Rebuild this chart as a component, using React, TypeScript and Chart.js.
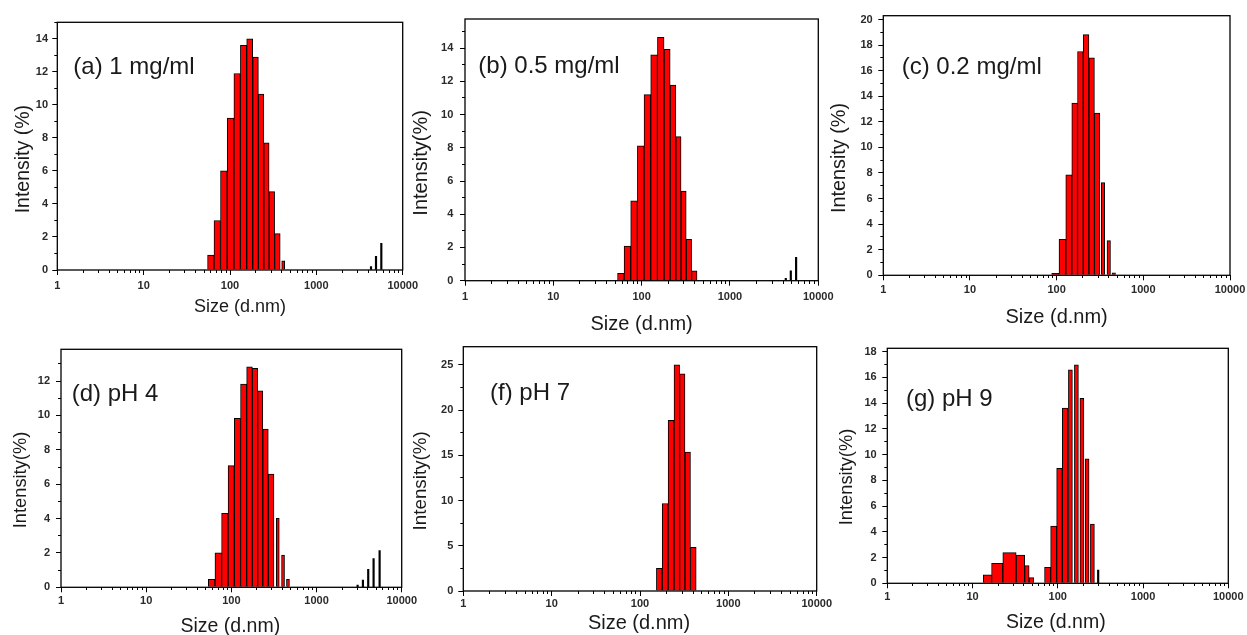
import React, { useEffect, useRef } from "react";
import { Chart, registerables } from "chart.js";

Chart.register(...registerables);

const FONT = "'Liberation Sans', Arial, Helvetica, sans-serif";

// ---- axis ticks ----
const xMajorTicks = [1, 10, 100, 1000, 10000];
const xMinorMultipliers = [2, 3, 4, 5, 6, 7, 8, 9];

// ---- (a) 1 mg/ml ----
const sizesA = [59.9, 71.1, 84.8, 101.5, 121.3, 143.6, 169.5, 198, 229.5, 264, 305, 354];
const intensityA = [0.9, 3.0, 6.0, 9.2, 11.9, 13.6, 14.0, 12.9, 10.65, 7.7, 4.75, 2.2];
const tailSizesA = [413];
const tailIntensityA = [0.56];
const spikeSizesA = [4295, 4908, 5654];
const spikeIntensityA = [0.2, 0.83, 1.62];

// ---- (b) 0.5 mg/ml ----
const sizesB = [58.1, 68.9, 82.0, 97.7, 116.0, 138.2, 164.9, 195, 226.8, 261.8, 298, 342.5, 394.5];
const intensityB = [0.44, 2.09, 4.8, 8.12, 11.2, 13.6, 14.64, 13.92, 11.77, 8.67, 5.4, 2.49, 0.6];
const spikeSizesB = [4285, 4883, 5607];
const spikeIntensityB = [0.14, 0.6, 1.41];

// ---- (c) 0.2 mg/ml ----
const sizesC = [96.6, 117.3, 138.4, 161.5, 187.8, 218.6, 253.9, 293.1];
const intensityC = [0.15, 2.82, 7.85, 13.47, 17.5, 18.82, 17.0, 12.69];
const tailSizesC = [342, 399, 456];
const tailIntensityC = [7.25, 2.71, 0.2];

// ---- (d) pH 4 ----
const sizesD = [58.7, 70.2, 84.1, 99.7, 118, 139.4, 164, 190.2, 217.8, 251.3, 293];
const intensityD = [0.47, 2.01, 4.3, 7.08, 9.83, 11.83, 12.83, 12.74, 11.44, 9.21, 6.59];
const tailSizesD = [350.8, 404.4, 462];
const tailIntensityD = [4.01, 1.88, 0.47];
const spikeSizesD = [3036, 3506, 4045, 4677, 5504];
const spikeIntensityD = [0.13, 0.42, 1.05, 1.67, 2.13];

// ---- (f) pH 7 ----
const sizesF = [165.4, 192.4, 225, 261.7, 301, 346, 401.5];
const intensityF = [2.51, 9.67, 18.86, 25.0, 24.0, 15.36, 4.84];

// ---- (g) pH 9 ----
const smallSizesG = [14.95, 18.7, 27.4, 38.5, 43.4, 49.0];
const smallIntensityG = [0.65, 1.55, 2.38, 2.2, 1.37, 0.44];
const sizesG = [75.9, 89.5, 105, 121.8];
const intensityG = [1.24, 4.45, 8.93, 13.6];
const tailSizesG = [140.6, 165.3, 191.7, 220.5, 254.6];
const tailIntensityG = [16.57, 16.96, 14.37, 9.66, 4.6];
const spikeSizesG = [297.6];
const spikeIntensityG = [1.03];

type Series = { sizes: number[]; values: number[]; kind: "flex" | "narrow" | "line"; thickness?: number };
type Panel = {
  key: string;
  label: string;
  yTitle: string;
  xTitle: string;
  l: number; t: number; r: number; b: number;
  yMax: number; yStep: number; yLabelEvery: number;
  series: Series[];
  labelDx: number; labelDy: number;
  yTitleDx: number; yTitleDy: number; yTitleSize: number;
  xTitleDx: number; xTitleDy: number; xTitleSize: number;
  yPad: number; xPad: number;
};

const panels: Panel[] = [
  {
    key: "a", label: "(a) 1 mg/ml", yTitle: "Intensity (%)", xTitle: "Size (d.nm)",
    l: 57.3, t: 22.3, r: 402.7, b: 270, yMax: 15, yStep: 1, yLabelEvery: 2,
    series: [
      { sizes: sizesA, values: intensityA, kind: "flex" },
      { sizes: tailSizesA, values: tailIntensityA, kind: "narrow", thickness: 3 },
      { sizes: spikeSizesA, values: spikeIntensityA, kind: "line" },
    ],
    labelDx: 16, labelDy: 44.7, yTitleDx: -34, yTitleDy: 13, yTitleSize: 19.5,
    xTitleDx: 10, xTitleDy: 36.7, xTitleSize: 18, yPad: 4.3, xPad: 4.4,
  },
  {
    key: "b", label: "(b) 0.5 mg/ml", yTitle: "Intensity(%)", xTitle: "Size (d.nm)",
    l: 465, t: 19, r: 818.3, b: 280.7, yMax: 15.75, yStep: 1, yLabelEvery: 2,
    series: [
      { sizes: sizesB, values: intensityB, kind: "flex" },
      { sizes: spikeSizesB, values: spikeIntensityB, kind: "line" },
    ],
    labelDx: 13.3, labelDy: 47.7, yTitleDx: -43.3, yTitleDy: 13, yTitleSize: 20,
    xTitleDx: 0, xTitleDy: 43.3, xTitleSize: 20, yPad: 6.7, xPad: 4.4,
  },
  {
    key: "c", label: "(c) 0.2 mg/ml", yTitle: "Intensity (%)", xTitle: "Size (d.nm)",
    l: 883.3, t: 15.7, r: 1230, b: 275.3, yMax: 20.3, yStep: 1, yLabelEvery: 2,
    series: [
      { sizes: sizesC, values: intensityC, kind: "flex" },
      { sizes: tailSizesC, values: tailIntensityC, kind: "narrow", thickness: 3.5 },
    ],
    labelDx: 18.4, labelDy: 51.3, yTitleDx: -43.3, yTitleDy: 12.5, yTitleSize: 19.8,
    xTitleDx: 0, xTitleDy: 42.2, xTitleSize: 20, yPad: 5.6, xPad: 3.1,
  },
  {
    key: "d", label: "(d) pH 4", yTitle: "Intensity(%)", xTitle: "Size (d.nm)",
    l: 61, t: 349.3, r: 401.7, b: 587.3, yMax: 13.85, yStep: 1, yLabelEvery: 2,
    series: [
      { sizes: sizesD, values: intensityD, kind: "flex" },
      { sizes: tailSizesD, values: tailIntensityD, kind: "narrow", thickness: 3 },
      { sizes: spikeSizesD, values: spikeIntensityD, kind: "line" },
    ],
    labelDx: 10.7, labelDy: 44.7, yTitleDx: -40, yTitleDy: 11.7, yTitleSize: 18.3,
    xTitleDx: -1, xTitleDy: 39.4, xTitleSize: 19.5, yPad: 6, xPad: 2.1,
  },
  {
    key: "f", label: "(f) pH 7", yTitle: "Intensity(%)", xTitle: "Size (d.nm)",
    l: 463.3, t: 346.7, r: 816.7, b: 591, yMax: 27, yStep: 2.5, yLabelEvery: 5,
    series: [{ sizes: sizesF, values: intensityF, kind: "flex" }],
    labelDx: 26.7, labelDy: 46.6, yTitleDx: -42.8, yTitleDy: 12, yTitleSize: 18.8,
    xTitleDx: -1, xTitleDy: 32.3, xTitleSize: 20, yPad: 5, xPad: 1.7,
  },
  {
    key: "g", label: "(g) pH 9", yTitle: "Intensity(%)", xTitle: "Size (d.nm)",
    l: 887.3, t: 348.3, r: 1228.3, b: 583.3, yMax: 18.25, yStep: 1, yLabelEvery: 2,
    series: [
      { sizes: smallSizesG, values: smallIntensityG, kind: "flex" },
      { sizes: sizesG, values: intensityG, kind: "flex" },
      { sizes: tailSizesG, values: tailIntensityG, kind: "narrow", thickness: 4 },
      { sizes: spikeSizesG, values: spikeIntensityG, kind: "line" },
    ],
    labelDx: 18.7, labelDy: 50.9, yTitleDx: -40.6, yTitleDy: 11.2, yTitleSize: 18.3,
    xTitleDx: -2, xTitleDy: 39, xTitleSize: 19.5, yPad: 5.6, xPad: 1.7,
  },
];

const isDecade = (v: number) => {
  const lg = Math.log10(v);
  return Math.abs(lg - Math.round(lg)) < 1e-9;
};
const isMultiple = (v: number, m: number) => Math.abs(v / m - Math.round(v / m)) < 1e-9;

const xTickValues: number[] = (() => {
  const out: number[] = [];
  xMajorTicks.forEach((d, i) => {
    out.push(d);
    if (i < xMajorTicks.length - 1) xMinorMultipliers.forEach((m) => out.push(d * m));
  });
  return out;
})();

const panelTextPlugin = {
  id: "panelText",
  afterDatasetsDraw(chart: any, _args: any, opts: any) {
    const { ctx, chartArea: a } = chart;
    ctx.save();
    ctx.strokeStyle = "#000";
    ctx.lineWidth = 1.3;
    ctx.strokeRect(a.left, a.top, a.right - a.left, a.bottom - a.top);

    ctx.fillStyle = "#1a1a1a";
    ctx.textBaseline = "middle";
    ctx.textAlign = "left";
    ctx.font = `24px ${FONT}`;
    ctx.fillText(opts.label, a.left + opts.labelDx, a.top + opts.labelDy);

    ctx.textAlign = "center";
    ctx.font = `${opts.xTitleSize}px ${FONT}`;
    ctx.fillText(opts.xTitle, (a.left + a.right) / 2 + opts.xTitleDx, a.bottom + opts.xTitleDy);

    ctx.translate(a.left + opts.yTitleDx, (a.top + a.bottom) / 2 + opts.yTitleDy);
    ctx.rotate(-Math.PI / 2);
    ctx.font = `${opts.yTitleSize}px ${FONT}`;
    ctx.fillText(opts.yTitle, 0, 0);
    ctx.restore();
  },
};

function canvasBox(p: Panel) {
  const x = Math.floor(p.l) - 62;
  const y = Math.floor(p.t) - 14;
  const w = Math.ceil(p.r) + 24 - x;
  const h = Math.ceil(p.b) + 60 - y;
  return { x, y, w, h };
}

function buildDatasets(series: Series[]) {
  return series.map((s) => {
    const data = s.sizes.map((x, i) => ({ x, y: s.values[i] }));
    const common: any = { type: "bar", data, categoryPercentage: 1, barPercentage: 1, skipNull: true };
    if (s.kind === "flex") {
      return { ...common, grouped: true, barThickness: "flex", backgroundColor: "#ff0000", borderColor: "#000", borderWidth: 1 };
    }
    if (s.kind === "narrow") {
      return { ...common, grouped: false, barThickness: s.thickness, backgroundColor: "#ff0000", borderColor: "#000", borderWidth: 1 };
    }
    return { ...common, grouped: false, barThickness: 1.5, backgroundColor: "#000", borderWidth: 0 };
  });
}

const tickFont = { family: FONT, size: 11, weight: "bold" as const };

function PanelChart({ p }: { p: Panel }) {
  const ref = useRef<HTMLCanvasElement>(null);
  const box = canvasBox(p);
  useEffect(() => {
    if (!ref.current) return;
    const yTicks: number[] = [];
    for (let v = 0; v <= p.yMax + 1e-9; v += p.yStep) yTicks.push(Math.round(v * 100) / 100);
    const chart = new Chart(ref.current, {
      type: "bar",
      data: { datasets: buildDatasets(p.series) as any },
      plugins: [panelTextPlugin as any],
      options: {
        animation: false,
        responsive: true,
        maintainAspectRatio: false,
        events: [],
        layout: {
          autoPadding: false,
          padding: { left: 0, top: p.t - box.y, right: box.x + box.w - p.r, bottom: 0 },
        },
        plugins: {
          legend: { display: false },
          tooltip: { enabled: false },
          panelText: {
            label: p.label, labelDx: p.labelDx, labelDy: p.labelDy,
            xTitle: p.xTitle, xTitleDx: p.xTitleDx, xTitleDy: p.xTitleDy, xTitleSize: p.xTitleSize,
            yTitle: p.yTitle, yTitleDx: p.yTitleDx, yTitleDy: p.yTitleDy, yTitleSize: p.yTitleSize,
          },
        } as any,
        scales: {
          x: {
            type: "logarithmic",
            min: 1,
            max: 10000,
            offset: false,
            border: { display: false },
            grid: {
              display: true,
              offset: false,
              drawOnChartArea: false,
              drawTicks: true,
              tickLength: 5,
              tickColor: "#000",
              tickWidth: 1,
              tickBorderDash: (ctx: any) => (ctx.tick && isDecade(ctx.tick.value) ? [] : [3, 20]),
            },
            ticks: {
              autoSkip: false,
              maxRotation: 0,
              minRotation: 0,
              padding: p.xPad,
              color: "#2a2a2a",
              font: tickFont,
              callback: (v: any) => (isDecade(Number(v)) ? String(Number(v)) : ""),
            },
            afterBuildTicks: (s: any) => {
              s.ticks = xTickValues.map((v) => ({ value: v, major: isDecade(v) }));
            },
            afterFit: (s: any) => {
              s.height = box.y + box.h - p.b;
            },
          } as any,
          y: {
            type: "linear",
            min: 0,
            max: p.yMax,
            border: { display: false },
            grid: {
              display: true,
              drawOnChartArea: false,
              drawTicks: true,
              tickLength: 5,
              tickColor: "#000",
              tickWidth: 1,
              tickBorderDash: (ctx: any) =>
                ctx.tick && isMultiple(ctx.tick.value, p.yLabelEvery) ? [] : [0, 2, 3, 20],
            },
            ticks: {
              autoSkip: false,
              includeBounds: false,
              padding: p.yPad,
              color: "#2a2a2a",
              font: tickFont,
              callback: (v: any) => (isMultiple(Number(v), p.yLabelEvery) ? String(Number(v)) : ""),
            },
            afterBuildTicks: (s: any) => {
              s.ticks = yTicks.map((v) => ({ value: v }));
            },
            afterFit: (s: any) => {
              s.width = p.l - box.x;
            },
          } as any,
        },
      },
    });
    return () => chart.destroy();
  }, []);
  return (
    <div style={{ position: "absolute", left: box.x, top: box.y, width: box.w, height: box.h }}>
      <canvas ref={ref} />
    </div>
  );
}

export default function App() {
  return (
    <div
      style={{
        position: "absolute",
        left: 0,
        top: 0,
        width: 1247,
        height: 635,
        overflow: "hidden",
        background: "#fff",
      }}
    >
      {panels.map((p) => (
        <PanelChart key={p.key} p={p} />
      ))}
    </div>
  );
}
